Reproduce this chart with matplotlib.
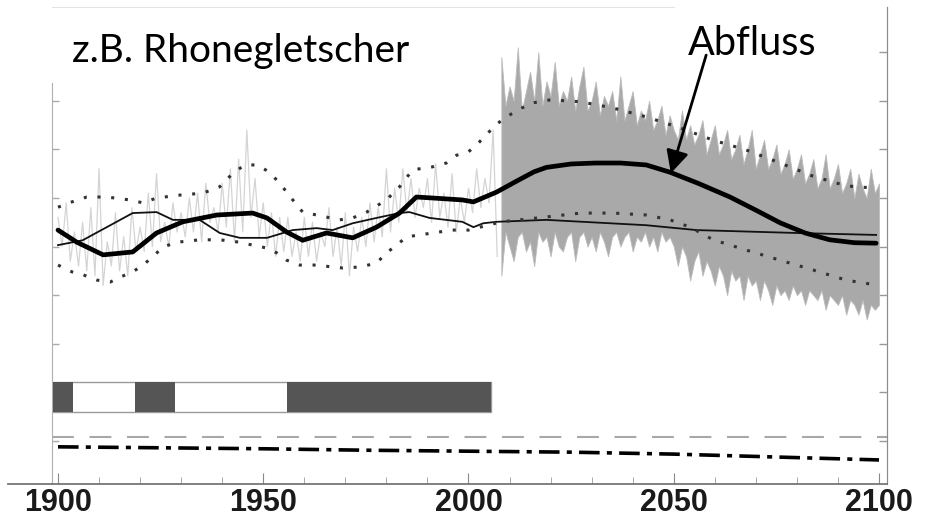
import numpy as np
import matplotlib
matplotlib.use('Agg')
import matplotlib.pyplot as plt

# --- data (y in arbitrary runoff units, one unit per tick) ---
raw_years = list(range(1900, 2008))
raw_vals = [4.6, 4.0, 4.9, 3.7, 4.3, 3.6, 4.5, 3.5, 4.8, 3.4,
            5.6, 3.2, 4.1, 3.6, 4.7, 3.5, 4.2, 3.4, 4.8, 3.9,
            4.4, 3.9, 5.1, 4.0, 5.5, 4.1, 4.5, 4.0, 4.9, 4.3,
            4.7, 4.2, 5.0, 4.3, 5.1, 4.1, 5.3, 4.5, 4.8, 4.3,
            5.3, 4.4, 5.6, 4.1, 5.8, 4.3, 6.4, 4.6, 5.4, 4.2,
            4.9, 4.0, 4.7, 3.8, 4.6, 3.9, 4.6, 3.8, 4.3, 3.7,
            4.6, 3.8, 4.5, 3.7, 4.3, 4.0, 4.8, 3.8, 4.4, 3.6,
            4.7, 3.4, 4.4, 3.9, 4.6, 4.0, 4.9, 4.1, 4.8, 4.2,
            5.6, 4.3, 5.2, 4.5, 5.6, 4.7, 5.4, 4.6, 5.2, 4.8,
            5.4, 4.5, 5.7, 4.6, 5.1, 4.4, 5.5, 4.3, 5.0, 4.5,
            5.2, 4.7, 5.6, 4.8, 5.4, 4.9, 6.4, 3.8]

band_years = list(range(2008, 2101))
band_top = [7.9, 6.9, 7.3, 7.0, 8.1, 6.8, 7.2, 7.6, 7.0, 8.0,
            6.9, 7.4, 7.1, 7.8, 6.9, 7.2, 7.0, 7.5, 6.8, 7.3,
            7.7, 6.8, 7.0, 7.4, 6.7, 7.1, 6.9, 7.2, 6.6, 7.5,
            6.6, 6.9, 7.2, 6.5, 6.8, 6.6, 7.0, 6.4, 6.6, 6.9,
            6.3, 6.7, 6.4, 6.2, 6.8, 6.2, 6.5, 6.1, 6.3, 6.6,
            5.9, 6.2, 6.5, 5.9, 6.1, 6.4, 5.8, 6.0, 6.3, 5.7,
            6.0, 6.4, 5.6, 5.9, 6.2, 5.6, 5.8, 6.1, 5.5, 5.7,
            6.0, 5.4, 5.6, 5.9, 5.3, 5.5, 5.8, 5.2, 5.4, 5.9,
            5.2, 5.4, 5.7, 5.1, 5.3, 5.6, 5.0, 5.5, 5.2, 5.0,
            5.6, 5.1, 5.3]
band_bot = [3.4, 4.3, 4.0, 3.7, 4.2, 4.3, 3.9, 4.1, 3.6, 4.3,
            4.1, 4.2, 3.8, 4.3, 4.0, 3.9, 4.2, 4.3, 3.7, 4.2,
            4.3, 4.0, 4.2, 3.9, 4.3, 4.1, 3.8, 4.2, 4.3, 4.0,
            4.2, 4.3, 3.9, 4.2, 4.1, 4.3, 4.0, 4.2, 3.9, 4.3,
            4.1, 4.2, 4.0, 3.6, 4.0, 3.8, 3.3, 3.7, 3.9, 3.4,
            3.7, 3.5, 3.2, 3.6, 3.4, 3.0, 3.5, 3.3, 3.4, 2.9,
            3.4, 3.2, 3.3, 2.9, 3.3, 3.1, 2.8, 3.2, 3.0, 3.1,
            2.9, 3.2, 3.0, 3.1, 2.8, 3.1, 3.0, 2.9, 3.1, 2.7,
            3.0, 2.9, 2.8, 3.0, 2.6, 2.9, 2.8, 2.6, 2.9, 2.5,
            2.8, 2.7, 2.8]

smooth_years = [1900, 1904.6, 1911, 1918.2, 1924, 1930.4, 1938.7, 1947.4, 1950.9, 1955.7,
                1959.6, 1965.4, 1971.8, 1977.6, 1983.2, 1987.3, 1991.2, 1998.5, 2001.2, 2006.8,
                2012, 2016, 2019, 2025, 2031, 2037, 2043.3, 2049.1, 2056, 2063.7,
                2070, 2075.9, 2082, 2088, 2094, 2099.3]
smooth_vals = [4.34, 4.09, 3.83, 3.89, 4.28, 4.51, 4.65, 4.69, 4.59, 4.30,
               4.13, 4.28, 4.18, 4.40, 4.69, 5.02, 5.00, 4.96, 4.92, 5.12,
               5.36, 5.54, 5.63, 5.70, 5.72, 5.72, 5.68, 5.53, 5.30, 5.02,
               4.75, 4.49, 4.28, 4.14, 4.08, 4.07]

thin_years = [1900, 1906, 1918.2, 1924, 1928, 1934.5, 1939.4, 1944.3, 1950.9, 1957.2,
              1963, 1966.9, 1971.8, 1977.6, 1983.2, 1985.6, 1990.5, 1998.5, 2001.2, 2003.6,
              2006.8, 2019, 2043.3, 2055.5, 2079.9, 2099.3]
thin_vals = [4.03, 4.13, 4.69, 4.71, 4.55, 4.55, 4.28, 4.18, 4.18, 4.34,
             4.38, 4.34, 4.48, 4.59, 4.69, 4.71, 4.59, 4.51, 4.40, 4.48,
             4.51, 4.55, 4.44, 4.34, 4.28, 4.24]

upper_years = [1900, 1903.4, 1907, 1911.9, 1917.5, 1920.7, 1924, 1929.7, 1935.3, 1939.4,
               1942.6, 1945.5, 1948.4, 1951.6, 1954.7, 1957.2, 1959.6, 1963, 1968.6, 1971.8,
               1975.2, 1980, 1983.2, 1986.4, 1991.2, 1994.6, 1997.1, 2000, 2002.4, 2006.6,
               2009.2, 2015.1, 2020, 2027.3, 2035.3, 2043.3, 2051.6, 2059.6, 2067.6, 2075.9,
               2083.9, 2092, 2099.3]
upper_vals = [4.81, 4.92, 5.02, 5.02, 4.96, 4.90, 5.00, 5.06, 5.10, 5.23,
              5.51, 5.68, 5.68, 5.53, 5.23, 4.96, 4.71, 4.65, 4.55, 4.59,
              4.71, 4.96, 5.23, 5.58, 5.64, 5.72, 5.88, 5.95, 6.13, 6.50,
              6.67, 6.95, 7.02, 6.98, 6.85, 6.67, 6.44, 6.19, 5.99, 5.72,
              5.45, 5.25, 5.20]

lower_years = [1900, 1903.4, 1906.1, 1909.5, 1912.7, 1915.1, 1918.2, 1920.7, 1923.1, 1925.5,
               1929, 1934.5, 1939.4, 1944.3, 1947.4, 1950.9, 1953.3, 1955.7, 1958.9, 1963,
               1966.9, 1969.3, 1973.5, 1977.6, 1980, 1982.5, 1984.9, 1988.1, 1991.2, 1996.1,
               2000, 2008, 2019, 2027.3, 2035.3, 2043.3, 2049.1, 2054, 2059.6, 2067.6,
               2075.9, 2083.9, 2092, 2099.3]
lower_vals = [3.62, 3.48, 3.42, 3.31, 3.27, 3.37, 3.48, 3.62, 3.79, 3.99,
              4.09, 4.14, 4.14, 4.09, 4.03, 3.97, 3.87, 3.72, 3.62, 3.62,
              3.58, 3.56, 3.58, 3.66, 3.87, 4.03, 4.20, 4.24, 4.28, 4.34,
              4.34, 4.51, 4.61, 4.69, 4.69, 4.65, 4.55, 4.40, 4.14, 3.93,
              3.72, 3.52, 3.31, 3.21]

# glacier status bar: dark segments (start year, length)
bar_start, bar_end = 1898.9, 2005.4
dark_segments = [(1898.9, 4.7), (1918.7, 9.8), (1955.7, 49.7)]

# bottom dash-dot series
dd_years = [1900, 1925, 1950, 1975, 2000, 2025, 2050, 2075, 2100]
dd_vals = [-0.12, -0.14, -0.16, -0.19, -0.21, -0.23, -0.27, -0.33, -0.39]
dash_level = 0.08

xticks = [1900, 1950, 2000, 2050, 2100]

# --- figure ---
fig = plt.figure(figsize=(9.28, 5.23), dpi=100)
ax = fig.add_axes([52 / 928, 39 / 523, 835 / 928, 477 / 523])
ax.set_xlim(1898.54, 2101.95)
ax.set_ylim(-0.885, 8.93)

ax.fill_between(band_years, band_bot, band_top, color='#a9a9a9', lw=0.6,
                edgecolor='#bcbcbc', zorder=1)
ax.plot(raw_years, raw_vals, color='#d4d4d4', lw=0.9, zorder=1)
ax.plot(thin_years, thin_vals, color='#111111', lw=1.3, zorder=3)
ax.plot(upper_years, upper_vals, color='#333333', lw=2.2, dashes=(1.0, 3.5), zorder=3)
ax.plot(lower_years, lower_vals, color='#333333', lw=2.2, dashes=(1.0, 3.5), zorder=3)
ax.plot(smooth_years, smooth_vals, color='black', lw=3.4, solid_joinstyle='round',
        solid_capstyle='round', zorder=4)

ax.broken_barh([(bar_start, bar_end - bar_start)], (0.60, 0.61), facecolor='white',
               edgecolor='#999999', lw=1.0, zorder=2)
ax.broken_barh(dark_segments, (0.60, 0.61), facecolor='#555555', edgecolor='none', zorder=3)

ax.axhline(dash_level, color='#a8a8a8', lw=1.5, dashes=(10.5, 7.5), zorder=2)
ax.plot(dd_years, dd_vals, color='black', lw=2.6, linestyle=(0, (5.7, 2, 1.4, 2)), zorder=3)

# axes styling
for side in ['left', 'right', 'bottom', 'top']:
    ax.spines[side].set_color('#8c8c8c')
ax.spines['left'].set_bounds(-0.885, 7.37)
ax.spines['left'].set_color('#b0b0b0')
ax.spines['top'].set_color('#e4e4e4')
ax.spines['top'].set_bounds(1898.54, 2050)
ax.spines['bottom'].set_color('#777777')
ax.spines['bottom'].set_linewidth(1.3)

ax.set_yticks(range(0, 8))
ax.set_yticklabels([])
ax.tick_params(axis='y', direction='in', length=5, color='#aaaaaa', width=1)
sec = ax.secondary_yaxis('right')
sec.set_yticks(range(0, 9))
sec.set_yticklabels([])
sec.tick_params(direction='in', length=6, color='#999999', width=1)
sec.spines['right'].set_color('#8c8c8c')

ax.set_xticks(xticks)
ax.set_xticks(range(1900, 2101, 10), minor=True)
ax.tick_params(axis='x', which='major', direction='in', length=8, color='#888888', pad=3)
ax.tick_params(axis='x', which='minor', direction='in', length=5, color='#999999')
for lab in ax.get_xticklabels():
    lab.set_fontfamily('Liberation Sans')
    lab.set_fontweight('bold')
    lab.set_fontsize(22)
    lab.set_color('#1a1a1a')

# bottom axis line sticks out to the left
ax.plot([-0.053, 0], [0, 0], transform=ax.transAxes, color='#777777', lw=1.3, clip_on=False)

ax.text(72 / 928, 1 - 62 / 523, 'z.B. Rhonegletscher', transform=fig.transFigure,
        fontfamily='Lato', fontsize=28, color='black', va='baseline')
ax.text(688 / 928, 1 - 55 / 523, 'Abfluss', transform=fig.transFigure,
        fontfamily='Lato', fontsize=28.5, color='black', va='baseline')
ax.annotate('', xy=(2049.3, 5.51), xytext=(2057.9, 7.94),
            arrowprops=dict(arrowstyle='-|>', color='black', lw=2,
                            mutation_scale=34, shrinkA=0, shrinkB=0), zorder=6)

fig.savefig('out.png', dpi=100)
